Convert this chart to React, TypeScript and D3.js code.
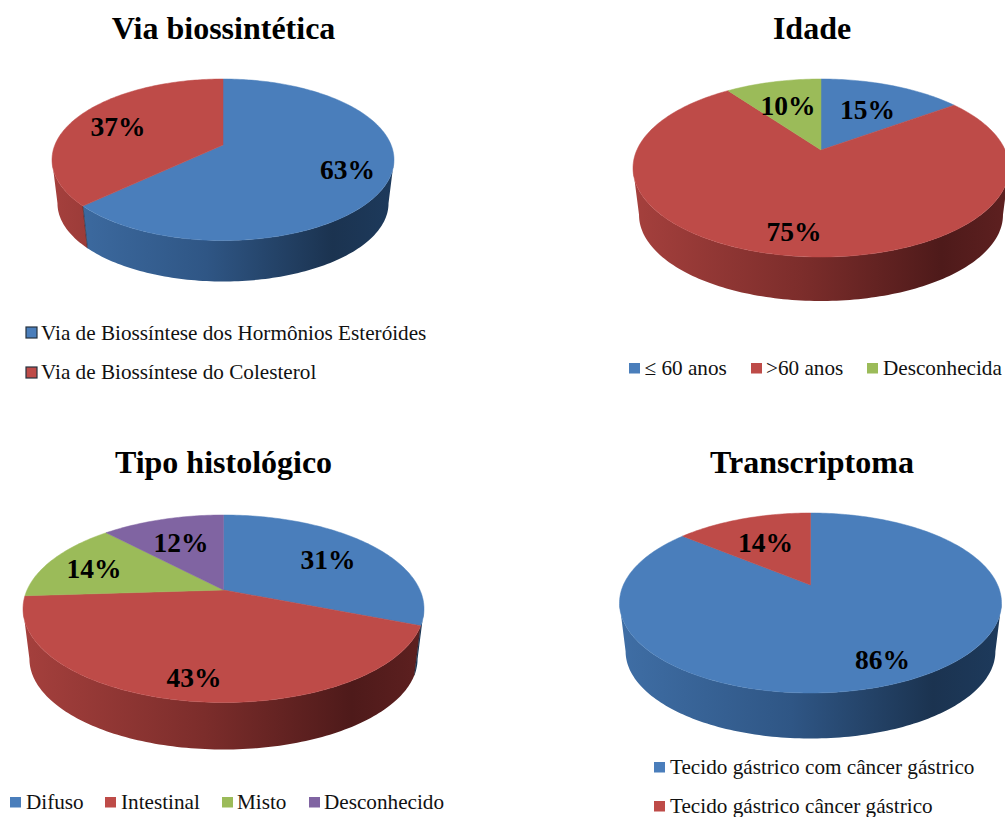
import React from "react";
import * as d3 from "d3";

// Series values, in percent
const biosyntheticValues = [63, 37];
const ageValues = [15, 75, 10];
const histologyValues = [31, 43, 14, 12];
const transcriptomeValues = [86, 14];

// Category names
const biosyntheticNames = ["Via de Biossíntese dos Hormônios Esteróides", "Via de Biossíntese do Colesterol"];
const ageNames = ["≤ 60 anos", ">60 anos", "Desconhecida"];
const histologyNames = ["Difuso", "Intestinal", "Misto", "Desconhecido"];
const transcriptomeNames = ["Tecido gástrico com câncer gástrico", "Tecido gástrico câncer gástrico"];

const titles = ["Via biossintética", "Idade", "Tipo histológico", "Transcriptoma"];

// Slice colours, in series order
const faceColors = ["#4a7ebb", "#be4b48", "#9bbb59", "#8064a2"];
const sideStops = [
  ["#3f6ea5", "#2f5685", "#1b3350", "#1d3a5c"],
  ["#a5403d", "#7c2d2b", "#4e1a1a", "#5e2020"],
  ["#7d9a45", "#62793a", "#3f4e24", "#46562a"],
  ["#66508a", "#503f6c", "#322844", "#3a2e4e"],
];

const serif = "'Liberation Serif', 'Times New Roman', serif";

type Panel = {
  id: string;
  title: string;
  titleX: number;
  titleY: number;
  values: number[];
  names: string[];
  cx: number;
  apexY: number;
  top: number;
  bottom: number;
  halfWidth: number;
  sideBottom: number;
  labels: [number, number][];
  legend: { sx: number; sy: number; tx: number; ty: number }[];
  outlined?: boolean;
};

const panels: Panel[] = [
  {
    id: "a", title: titles[0], titleX: 223.5, titleY: 39,
    values: biosyntheticValues, names: biosyntheticNames,
    cx: 223, apexY: 145, top: 79, bottom: 240.5, halfWidth: 171, sideBottom: 281.5,
    labels: [[347.5, 178.5], [118, 136]],
    legend: [
      { sx: 26, sy: 327, tx: 41, ty: 339.5 },
      { sx: 26, sy: 367, tx: 41, ty: 378.5 },
    ],
    outlined: true,
  },
  {
    id: "b", title: titles[1], titleX: 812, titleY: 39,
    values: ageValues, names: ageNames,
    cx: 821, apexY: 150, top: 79, bottom: 257, halfWidth: 188, sideBottom: 301,
    labels: [[867.5, 119], [794, 241], [788, 115]],
    legend: [
      { sx: 629, sy: 363, tx: 644.5, ty: 375 },
      { sx: 751, sy: 363, tx: 766, ty: 375 },
      { sx: 867, sy: 363, tx: 883, ty: 375 },
    ],
  },
  {
    id: "c", title: titles[2], titleX: 223.5, titleY: 473,
    values: histologyValues, names: histologyNames,
    cx: 223.5, apexY: 590, top: 515, bottom: 702.5, halfWidth: 200.5, sideBottom: 749.5,
    labels: [[328, 568.5], [194, 687], [94, 578], [181, 552]],
    legend: [
      { sx: 10, sy: 797, tx: 26, ty: 809 },
      { sx: 105, sy: 797, tx: 121, ty: 809 },
      { sx: 222, sy: 797, tx: 237, ty: 809 },
      { sx: 309, sy: 797, tx: 324, ty: 809 },
    ],
  },
  {
    id: "d", title: titles[3], titleX: 812, titleY: 473,
    values: transcriptomeValues, names: transcriptomeNames,
    cx: 810.5, apexY: 585, top: 513, bottom: 693, halfWidth: 191, sideBottom: 738.5,
    labels: [[882.5, 668.5], [765.5, 552]],
    legend: [
      { sx: 654, sy: 762, tx: 670, ty: 774 },
      { sx: 654, sy: 801, tx: 670, ty: 813 },
    ],
  },
];

const line = d3.line<[number, number]>().x((d) => d[0]).y((d) => d[1]);
const lowerScale = 0.968;

// A disc seen in perspective: the centre of the circle projects above the middle of the ellipse.
function makeProjection(p: Panel) {
  const up = p.apexY - p.top;
  const down = p.bottom - p.apexY;
  const k = (down - up) / (down + up);
  const b = up * (1 + k);
  const a = p.halfWidth * Math.sqrt(1 - k * k);
  const lift = p.sideBottom - p.apexY - down * lowerScale;
  const widest = Math.acos(-k);
  const project = (angle: number, radius = 1, lower = false): [number, number] => {
    const u = Math.sin(angle) * radius;
    const v = -Math.cos(angle) * radius;
    const w = 1 - k * v;
    const s = lower ? lowerScale : 1;
    return [p.cx + ((a * u) / w) * s, p.apexY + ((b * v) / w) * s + (lower ? lift : 0)];
  };
  return { project, widest };
}

function arcPoints(start: number, end: number, f: (t: number) => [number, number]) {
  const n = Math.max(2, Math.ceil((end - start) / 0.02));
  return d3.range(n + 1).map((i) => f(start + ((end - start) * i) / n));
}

function PieGroup({ p }: { p: Panel }) {
  const { project, widest } = makeProjection(p);
  const arcs = d3.pie<number>().sort(null)(p.values);
  const sideStart = widest;
  const sideEnd = 2 * Math.PI - widest;
  return (
    <g>
      <defs>
        {p.values.map((_, i) => (
          <linearGradient
            key={i}
            id={`side-${p.id}-${i}`}
            gradientUnits="userSpaceOnUse"
            x1={p.cx - p.halfWidth}
            x2={p.cx + p.halfWidth}
            y1={0}
            y2={0}
          >
            {sideStops[i].map((c, j) => (
              <stop key={j} offset={[0, 0.45, 0.82, 1][j]} stopColor={c} />
            ))}
          </linearGradient>
        ))}
      </defs>
      {arcs.map((arc, i) => {
        const s = Math.max(arc.startAngle, sideStart);
        const e = Math.min(arc.endAngle, sideEnd);
        if (e <= s) return null;
        const upper = arcPoints(s, e, (t) => project(t));
        const lower = arcPoints(s, e, (t) => project(t, 1, true)).reverse();
        return <path key={i} d={line([...upper, ...lower]) + "Z"} fill={`url(#side-${p.id}-${i})`} />;
      })}
      {/* Seams where two slices meet on the visible wall */}
      {arcs.slice(1).map((arc, i) => {
        const t = arc.startAngle;
        if (t <= sideStart || t >= sideEnd) return null;
        return (
          <path
            key={i}
            d={line([project(t), project(t, 1, true)]) ?? ""}
            stroke="#1f2c3d"
            strokeOpacity={0.6}
            strokeWidth={1}
            fill="none"
          />
        );
      })}
      {arcs.map((arc, i) => {
        const rim = arcPoints(arc.startAngle, arc.endAngle, (t) => project(t));
        return (
          <path
            key={i}
            d={line([project(0, 0), ...rim]) + "Z"}
            fill={faceColors[i]}
            stroke={faceColors[i]}
            strokeWidth={0.5}
          />
        );
      })}
      <text
        x={p.titleX}
        y={p.titleY}
        textAnchor="middle"
        fontFamily={serif}
        fontWeight="bold"
        fontSize={32}
        fill="#000"
      >
        {p.title}
      </text>
      {p.values.map((v, i) => (
        <text
          key={i}
          x={p.labels[i][0]}
          y={p.labels[i][1]}
          textAnchor="middle"
          fontFamily={serif}
          fontWeight="bold"
          fontSize={27.5}
          fill="#000"
        >
          {`${v}%`}
        </text>
      ))}
      {p.names.map((name, i) => (
        <g key={i}>
          <rect
            x={p.legend[i].sx}
            y={p.legend[i].sy}
            width={11}
            height={p.outlined ? 11 : 10.5}
            fill={faceColors[i]}
            stroke={p.outlined ? "#26323f" : "none"}
            strokeWidth={p.outlined ? 1.2 : 0}
          />
          <text x={p.legend[i].tx} y={p.legend[i].ty} fontFamily={serif} fontSize={21.2} fill="#111">
            {name}
          </text>
        </g>
      ))}
    </g>
  );
}

export default function App() {
  return (
    <svg
      width={1005}
      height={817}
      viewBox="0 0 1005 817"
      style={{ position: "absolute", left: 0, top: 0, display: "block", background: "#fff" }}
    >
      {panels.map((p) => (
        <PieGroup key={p.id} p={p} />
      ))}
    </svg>
  );
}
